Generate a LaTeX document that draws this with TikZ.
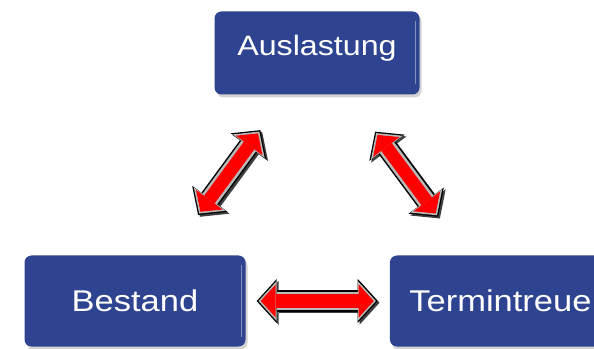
\documentclass[tikz,border=0pt]{standalone}
\usepackage{fontspec}
\newfontfamily\boxfont[FakeStretch=1.15]{Liberation Sans}
\usetikzlibrary{arrows.meta,positioning,shadows}

\definecolor{boxblue}{RGB}{47,68,145}

\begin{document}
\begin{tikzpicture}[
    box/.style={rounded corners=7pt,fill=boxblue,text=white,
      minimum width=221pt,minimum height=91pt,
      font=\boxfont\fontsize{30}{32}\selectfont,
      drop shadow={shadow xshift=2pt,shadow yshift=-3pt,opacity=.35},
      path picture={\draw[boxblue!60!white,line width=1.5pt]
        ([xshift=-4pt,yshift=-10pt]path picture bounding box.north east) --
        ([xshift=-4pt,yshift=10pt]path picture bounding box.south east);}},
    tip/.style={arrows={Triangle[length=#1,width=2.2*#1,line width=0pt]-Triangle[length=#1,width=2.2*#1,line width=0pt]}},
    biarrow/.style 2 args={draw=red,line width=13pt,tip=15pt,
      shorten <=#1+4pt,shorten >=#2+4pt,
      preaction={draw=black!75,line width=21pt,tip=20pt,
        shorten <=#1,shorten >=#2,transform canvas={shift={(1.8pt,-1.8pt)}}},
      preaction={draw=black,line width=21pt,tip=20pt,shorten <=#1,shorten >=#2},
      preaction={draw=gray!55,line width=18pt,tip=18pt,
        shorten <=#1+1.8pt,shorten >=#2+1.8pt}}]

  \useasboundingbox (0,0) rectangle (594pt,348pt);
  \clip (0,0) rectangle (594pt,348pt);

  \node[box,minimum width=205pt,minimum height=83pt,
    font=\boxfont\fontsize{28}{30}\selectfont] (aus) at (317pt,295pt)
    {\raisebox{5pt}[\height][\depth]{Auslastung}};
  \node[box] (bes) at (135pt,47pt) {Bestand};
  \node[box] (ter) [right=144pt of bes] {Termintreue};

  \draw[biarrow={50pt}{44pt}] (bes) -- (aus);
  \draw[biarrow={46pt}{48pt}] (aus) -- (ter);
  \draw[biarrow={11pt}{12pt}] (bes.east) -- (ter.west);

\end{tikzpicture}
\end{document}
